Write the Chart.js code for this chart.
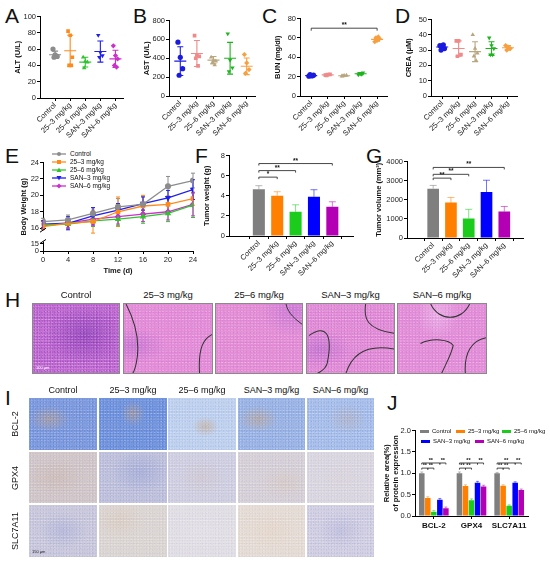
<!DOCTYPE html>
<html><head><meta charset="utf-8">
<script src="https://cdn.jsdelivr.net/npm/chart.js@4.4.1/dist/chart.umd.min.js"></script>
<style>
html,body{margin:0;padding:0}
body{width:550px;height:562px;position:relative;overflow:hidden;background:#fff;font-family:"Liberation Sans",Arial,sans-serif;color:#111}
canvas{position:absolute}
.L{position:absolute;font-size:21px;line-height:1;color:#111}
.t{position:absolute;font-size:9.5px;white-space:nowrap;transform:translateX(-50%);line-height:1}
.img{position:absolute;box-sizing:border-box;border:1px solid #8a8a8a;overflow:hidden;
 background-image:radial-gradient(var(--d) 0.5px,transparent 1px),radial-gradient(rgba(255,255,255,.35) 0.6px,transparent 1.1px),radial-gradient(var(--d) 0.4px,transparent 0.9px),var(--blob);
 background-size:2.6px 3.1px,3.3px 2.7px,4.3px 4.9px,100% 100%;background-position:0 0,1.2px 0.7px,2.1px 1.6px,0 0}
.img svg{position:absolute;left:0;top:0}
.row{position:absolute;font-size:9px;transform:translate(-50%,-50%) rotate(-90deg);white-space:nowrap;line-height:1}
.lg{position:absolute;font-size:6.5px;white-space:nowrap;line-height:7px}
.lg i{display:inline-block;vertical-align:middle;margin-right:3px}
.sb{position:absolute;font-size:4px;color:#222;left:3px;bottom:3px}
</style></head><body>

<div class="L" style="left:5px;top:5px">A</div>
<div class="L" style="left:133px;top:5px">B</div>
<div class="L" style="left:262px;top:5px">C</div>
<div class="L" style="left:395px;top:5px">D</div>
<div class="L" style="left:5px;top:145px">E</div>
<div class="L" style="left:195px;top:145px">F</div>
<div class="L" style="left:366px;top:145px">G</div>
<div class="L" style="left:5px;top:289px">H</div>
<div class="L" style="left:5px;top:387px">I</div>
<div class="L" style="left:387px;top:392px">J</div>

<canvas id="cA" style="left:12px;top:11px" width="115" height="129"></canvas>
<canvas id="cB" style="left:141px;top:15px" width="118" height="123"></canvas>
<canvas id="cC" style="left:272px;top:13px" width="119" height="125"></canvas>
<canvas id="cD" style="left:403px;top:14px" width="118" height="124"></canvas>
<canvas id="cE" style="left:18px;top:157px" width="181" height="119"></canvas>
<canvas id="cF" style="left:201px;top:150px" width="155" height="130"></canvas>
<canvas id="cG" style="left:373px;top:156px" width="153" height="126"></canvas>
<canvas id="cJ" style="left:380px;top:425px" width="151" height="110"></canvas>

<div id="legE"></div>
<div id="legJ"></div>
<div id="hist"></div>

<script>
// ---- data ----
const groups = ['Control', '25–3 mg/kg', '25–6 mg/kg', 'SAN–3 mg/kg', 'SAN–6 mg/kg'];

// A  ALT (U/L)
const altPts = [[60, 53, 51, 50], [82, 77, 50, 40, 40], [50, 45, 44, 37], [77, 56, 52, 50], [64, 52, 48, 40, 38]];
const altMean = [53, 58, 44, 57, 48];
const altSd = [4.5, 19, 6, 13, 10.5];
// B  AST (U/L)
const astPts = [[570, 410, 290, 220], [640, 430, 420, 400, 320], [410, 380, 370, 350, 330], [660, 380, 300, 260], [440, 350, 280, 240]];
const astMean = [370, 450, 380, 400, 315];
const astSd = [152, 138, 38, 168, 88];
// C  BUN (mg/dl)
const bunPts = [[20.5, 21, 21.5, 22, 20.8], [21.5, 22, 22.3, 21.2], [20.5, 21, 21.2, 20.8], [22, 23, 24, 23.5, 22.5], [56, 57.5, 59, 60, 61]];
const bunMean = [21, 21.8, 20.9, 23, 58.5];
const bunSd = [0.7, 0.5, 0.4, 0.9, 2];
// D  CREA (uM)
const creaPts = [[33, 32, 31, 30, 33.5], [36, 36, 27, 26], [40, 31, 28, 26, 23], [38, 33, 31, 27, 27], [33, 32, 31, 30]];
const creaMean = [32, 31, 29, 31, 31.5];
const creaSd = [1.5, 5, 6.5, 4.5, 1.5];

// E  body weight (g)
const days = [0, 4, 8, 12, 16, 20, 24];
const bwControl = [16.8, 17.0, 17.8, 18.6, 18.9, 21.1, 21.8];
const bw253 = [16.2, 16.6, 16.8, 18.0, 18.7, 18.9, 19.6];
const bw256 = [16.4, 16.5, 16.9, 17.1, 17.4, 17.8, 18.8];
const bwSan3 = [16.5, 16.6, 17.5, 18.2, 19.0, 19.7, 20.7];
const bwSan6 = [16.3, 16.6, 17.1, 17.4, 17.7, 18.0, 18.9];
const bwSdControl = [0.4, 0.6, 0.7, 1.0, 1.0, 1.2, 0.9];
const bwSd253 = [0.4, 0.5, 1.4, 1.8, 1.3, 1.0, 0.8];
const bwSd256 = [0.5, 0.6, 0.7, 0.8, 0.8, 1.0, 1.5];
const bwSdSan3 = [0.4, 0.8, 1.0, 0.8, 0.8, 0.9, 1.2];
const bwSdSan6 = [0.5, 0.6, 0.8, 0.9, 0.9, 1.0, 1.4];

// F  tumor weight (g)
const tumorWeight = [4.65, 4.0, 2.4, 3.9, 2.9];
const tumorWeightSd = [0.35, 0.4, 0.7, 0.7, 0.5];
// G  tumor volume (mm3)
const tumorVolume = [2580, 1850, 1020, 2400, 1380];
const tumorVolumeSd = [170, 270, 480, 620, 270];

// J  relative area
const proteins = ['BCL-2', 'GPX4', 'SLC7A11'];
const relControl = [1.0, 1.0, 1.0];
const rel253 = [0.42, 0.70, 0.71];
const rel256 = [0.10, 0.37, 0.24];
const relSan3 = [0.38, 0.78, 0.78];
const relSan6 = [0.18, 0.69, 0.61];
const relSd = [0.03, 0.03, 0.02];

// ---- colours ----
const colE = ['#8c8c8c', '#ff8a1c', '#2fc42f', '#1f1fee', '#cc2fcc'];
const colB = ['#1b1bdf', '#f08a8a', '#b9a67f', '#1fb31f', '#f7a040'];
const colBar = ['#7f7f7f', '#ff7f00', '#1ccc1c', '#0000ff', '#b400b4'];
const shapes = ['circle', 'rect', 'triangle', 'triangle', 'rectRot'];
const rots = [0, 0, 0, 180, 0];

Chart.defaults.font.family = "'Liberation Sans', Arial, sans-serif";
Chart.defaults.font.size = 7.5;
Chart.defaults.color = '#222';
Chart.defaults.animation = false;
Chart.defaults.plugins.legend.display = false;
Chart.defaults.plugins.tooltip.enabled = false;

// mean + SD for the dot plots
const dotStats = {
  id: 'dotStats',
  afterDatasetsDraw(chart, args, o) {
    if (!o.mean) return;
    const { ctx, scales: { x, y } } = chart;
    o.mean.forEach((m, i) => {
      const cx = x.getPixelForValue(i);
      const ym = y.getPixelForValue(m), yt = y.getPixelForValue(m + o.sd[i]), yb = y.getPixelForValue(m - o.sd[i]);
      ctx.save();
      ctx.strokeStyle = o.colors[i];
      ctx.lineWidth = 1.1;
      ctx.beginPath();
      ctx.moveTo(cx - 6, ym); ctx.lineTo(cx + 6, ym);
      ctx.moveTo(cx, yt); ctx.lineTo(cx, yb);
      ctx.moveTo(cx - 3, yt); ctx.lineTo(cx + 3, yt);
      ctx.moveTo(cx - 3, yb); ctx.lineTo(cx + 3, yb);
      ctx.stroke();
      ctx.restore();
    });
  }
};

// SD whiskers: per dataset (line chart) or per bar (bar charts)
const errBars = {
  id: 'errBars',
  beforeDatasetsDraw(chart, args, o) {
    if (!o.sd) return;
    const { ctx, scales: { y } } = chart;
    chart.data.datasets.forEach((ds, i) => {
      const meta = chart.getDatasetMeta(i);
      meta.data.forEach((el, j) => {
        const v = typeof ds.data[j] === 'object' ? ds.data[j].y : ds.data[j];
        const s = o.sd[i][j];
        const yt = y.getPixelForValue(v + s), yb = o.upOnly ? el.y : y.getPixelForValue(v - s);
        const cap = o.cap || 2.5;
        ctx.save();
        ctx.strokeStyle = o.perBar ? o.colors[j] : o.colors[i];
        ctx.globalAlpha = o.alpha || 1;
        ctx.lineWidth = 1;
        ctx.beginPath();
        ctx.moveTo(el.x, yt); ctx.lineTo(el.x, yb);
        ctx.moveTo(el.x - cap, yt); ctx.lineTo(el.x + cap, yt);
        if (!o.upOnly) { ctx.moveTo(el.x - cap, yb); ctx.lineTo(el.x + cap, yb); }
        ctx.stroke();
        ctx.restore();
      });
    });
  }
};

// significance brackets
const sigMarks = {
  id: 'sigMarks',
  afterDraw(chart, args, o) {
    if (!o.items) return;
    const { ctx, scales: { x, y } } = chart;
    ctx.save();
    ctx.strokeStyle = '#333';
    ctx.fillStyle = '#111';
    ctx.lineWidth = 0.9;
    ctx.font = 'bold ' + (o.size || 6.5) + 'px "Liberation Sans", Arial';
    ctx.textAlign = 'center';
    o.items.forEach(it => {
      let x1, x2, yv, lab;
      if (it.length === 5) {
        x1 = chart.getDatasetMeta(it[1]).data[it[0]].x;
        x2 = chart.getDatasetMeta(it[2]).data[it[0]].x;
        yv = it[3]; lab = it[4];
      } else {
        x1 = x.getPixelForValue(it[0]); x2 = x.getPixelForValue(it[1]); yv = it[2]; lab = it[3];
      }
      const py = y.getPixelForValue(yv);
      const d = o.tick || 2.5;
      ctx.beginPath();
      ctx.moveTo(x1, py + d); ctx.lineTo(x1, py); ctx.lineTo(x2, py); ctx.lineTo(x2, py + d);
      ctx.stroke();
      ctx.fillText(lab, (x1 + x2) / 2, py - 1);
    });
    ctx.restore();
  }
};

// broken y axis in E
const axisBreak = {
  id: 'axisBreak',
  afterDraw(chart, args, o) {
    if (!o.lo) return;
    const { ctx, scales: { y } } = chart;
    const x0 = y.right;
    const a = y.getPixelForValue(o.hi), b = y.getPixelForValue(o.lo);
    ctx.save();
    ctx.fillStyle = '#fff';
    ctx.fillRect(x0 - 3, a + 2, 6, b - a - 4);
    ctx.strokeStyle = '#000';
    ctx.lineWidth = 1;
    ctx.beginPath();
    ctx.moveTo(x0 - 3, a + 4); ctx.lineTo(x0 + 3, a);
    ctx.moveTo(x0 - 3, b); ctx.lineTo(x0 + 3, b - 4);
    ctx.stroke();
    ctx.restore();
  }
};
Chart.register(dotStats, errBars, sigMarks, axisBreak);

const gridOpts = { drawOnChartArea: false, color: '#000', tickColor: '#000', tickLength: 3, lineWidth: 1 };
const borderOpts = { color: '#000', width: 1 };

function yAxis(min, max, step, title, w) {
  return {
    min, max,
    ticks: { stepSize: step, padding: 1, color: '#222', callback: v => v },
    grid: gridOpts, border: borderOpts,
    title: { display: true, text: title, color: '#111', padding: 1, font: { size: 7.5, weight: 'bold' } },
    afterFit: s => { s.width = w; }
  };
}
function xGroups(min, max, h) {
  return {
    type: 'linear', min, max,
    afterBuildTicks: s => { s.ticks = groups.map((g, i) => ({ value: i })); },
    ticks: { callback: v => groups[v], autoSkip: false, minRotation: 45, maxRotation: 45, padding: 0, color: '#222' },
    grid: gridOpts, border: borderOpts,
    afterFit: s => { s.height = h; }
  };
}

function dotPlot(id, pts, mean, sd, cols, ymin, ymax, step, title, xmin, xmax, sig) {
  new Chart(document.getElementById(id), {
    type: 'scatter',
    data: {
      datasets: pts.map((p, i) => ({
        data: p.map((v, k) => ({ x: i + ((k % 3) - 1) * 0.14 + (k > 2 ? 0.07 : 0), y: v })),
        pointStyle: shapes[i], rotation: rots[i], radius: 2.6,
        backgroundColor: cols[i], borderColor: cols[i], borderWidth: 0
      }))
    },
    options: {
      responsive: false,
      layout: { padding: { top: 4, right: 4, left: 0, bottom: 0 } },
      scales: { x: xGroups(xmin, xmax, 42), y: yAxis(ymin, ymax, step, title, 28) },
      plugins: { dotStats: { mean, sd, colors: cols }, sigMarks: { items: sig } }
    }
  });
}

dotPlot('cA', altPts, altMean, altSd, colE, 0, 100, 20, 'ALT (U/L)', -1, 4.5, null);
dotPlot('cB', astPts, astMean, astSd, colB, 0, 800, 200, 'AST (U/L)', -0.68, 4.5, null);
dotPlot('cC', bunPts, bunMean, bunSd, colB, 0, 80, 20, 'BUN (mg/dl)', -0.68, 4.6, [[0, 4, 70, '**']]);
dotPlot('cD', creaPts, creaMean, creaSd, colB, 0, 50, 10, 'CREA (\u03bcM)', -0.68, 4.55, null);

// E: body weight lines on a broken axis
const bwSeries = [bwControl, bw253, bw256, bwSan3, bwSan6];
const bwSd = [bwSdControl, bwSd253, bwSd256, bwSdSan3, bwSdSan6];
const BRK0 = 13.22, BRK15 = 14.14;
const eY = yAxis(BRK0, 24, 2, 'Body Weight (g)', 25);
eY.afterBuildTicks = s => { s.ticks = [BRK0, BRK15, 16, 18, 20, 22, 24].map(v => ({ value: v })); };
eY.ticks.callback = v => (v < 14 ? '0' : v < 15 ? '15' : v);
new Chart(document.getElementById('cE'), {
  type: 'line',
  data: {
    datasets: bwSeries.map((s, i) => ({
      label: groups[i],
      data: s.map((v, j) => ({ x: days[j], y: v })),
      borderColor: colE[i], backgroundColor: colE[i], borderWidth: 1.3,
      pointStyle: shapes[i], rotation: rots[i], radius: 2.4
    }))
  },
  options: {
    responsive: false,
    layout: { padding: { top: 4, right: 6, left: 0, bottom: 0 } },
    scales: {
      x: {
        type: 'linear', min: 0, max: 24,
        ticks: { stepSize: 4, padding: 1, color: '#222' },
        grid: gridOpts, border: borderOpts,
        title: { display: true, text: 'Time (d)', color: '#111', padding: 1, font: { size: 7.5, weight: 'bold' } }
      },
      y: eY
    },
    plugins: {
      errBars: { sd: bwSd, colors: colE, cap: 2 },
      axisBreak: { lo: BRK15, hi: 16 }
    }
  }
});

// F / G bars
function barPlot(id, vals, sd, ymin, ymax, step, title, xmin, xmax, yw, sig) {
  new Chart(document.getElementById(id), {
    type: 'bar',
    data: {
      datasets: [{
        data: vals.map((v, i) => ({ x: i, y: v })),
        backgroundColor: colBar, borderWidth: 0,
        barPercentage: 0.8, categoryPercentage: 0.82
      }]
    },
    options: {
      responsive: false,
      layout: { padding: { top: 4, right: 3, left: 0, bottom: 0 } },
      scales: { x: xGroups(xmin, xmax, 44), y: yAxis(ymin, ymax, step, title, yw) },
      plugins: {
        errBars: { sd: [sd], colors: colBar, perBar: true, upOnly: true, cap: 3.5, alpha: 0.55 },
        sigMarks: { items: sig, tick: 2 }
      }
    }
  });
}
barPlot('cF', tumorWeight, tumorWeightSd, 0, 8, 2, 'Tumor weight (g)', -0.95, 4.45, 28,
  [[0, 1, 5.85, '*'], [0, 2, 6.5, '**'], [0, 4, 7.2, '**']]);
barPlot('cG', tumorVolume, tumorVolumeSd, 0, 4000, 1000, 'Tumor volume (mm\u00b3)', -0.82, 4.4, 34,
  [[0, 1, 3130, '**'], [0, 2, 3330, '**'], [0, 4, 3690, '**']]);

// J grouped bars
const relSeries = [relControl, rel253, rel256, relSan3, relSan6];
const jY = yAxis(0, 2, 0.5, ['Relative area(%)', 'of protein expression'], 35);
jY.ticks.callback = v => v.toFixed(1);
jY.title.font = { size: 7.5, weight: 'bold' };
jY.title.padding = 2;
new Chart(document.getElementById('cJ'), {
  type: 'bar',
  data: {
    labels: proteins,
    datasets: relSeries.map((s, i) => ({
      label: groups[i], data: s, backgroundColor: colBar[i], borderWidth: 0,
      barPercentage: 0.92, categoryPercentage: 0.8
    }))
  },
  options: {
    responsive: false,
    layout: { padding: { top: 4, right: 3, left: 0, bottom: 0 } },
    scales: {
      x: {
        ticks: { padding: 2, color: '#111', minRotation: 0, maxRotation: 0, autoSkip: false, font: { size: 8, weight: 'bold' } },
        grid: Object.assign({}, gridOpts, { offset: false }), border: borderOpts,
        afterFit: s => { s.height = 19; }
      },
      y: jY
    },
    plugins: {
      errBars: { sd: relSeries.map(() => relSd), colors: colBar, upOnly: true, cap: 1.5, alpha: 0.5 },
      sigMarks: {
        tick: 1.5, size: 5.5,
        items: [0, 1, 2].flatMap(g => [[g, 0, 1, 1.12, '**'], [g, 1, 2, 1.12, '**'], [g, 0, 3, 1.24, '**'], [g, 3, 4, 1.24, '**']])
      }
    }
  }
});

// legends
function sym(i, w) {
  const c = colE[i];
  let m = '';
  if (shapes[i] === 'circle') m = `<circle cx="${w / 2}" cy="3" r="2" fill="${c}"/>`;
  else if (shapes[i] === 'rect') m = `<rect x="${w / 2 - 2}" y="1" width="4" height="4" fill="${c}"/>`;
  else if (shapes[i] === 'rectRot') m = `<polygon points="${w / 2},0.5 ${w / 2 + 2.5},3 ${w / 2},5.5 ${w / 2 - 2.5},3" fill="${c}"/>`;
  else if (rots[i] === 0) m = `<polygon points="${w / 2},0.5 ${w / 2 + 2.5},5 ${w / 2 - 2.5},5" fill="${c}"/>`;
  else m = `<polygon points="${w / 2},5.5 ${w / 2 + 2.5},1 ${w / 2 - 2.5},1" fill="${c}"/>`;
  return `<svg width="${w}" height="6" style="vertical-align:middle;margin-right:4px"><line x1="0" y1="3" x2="${w}" y2="3" stroke="${c}" stroke-width="1.3"/>${m}</svg>`;
}
document.getElementById('legE').innerHTML = groups.map((g, i) =>
  `<div class="lg" style="left:52px;top:${150 + i * 8}px">${sym(i, 14)}${g}</div>`).join('');

const legJpos = [[420, 428], [456, 428], [502, 428], [421, 438], [475, 438]];
document.getElementById('legJ').innerHTML = groups.map((g, i) =>
  `<div class="lg" style="left:${legJpos[i][0]}px;top:${legJpos[i][1]}px;font-size:6px"><i style="width:9px;height:2.5px;background:${colBar[i]}"></i>${g}</div>`).join('');

// H / I micrographs (approximate textures)
const hCols = [['#c46ad2', 'rgba(100,30,160,.4)', 'radial-gradient(ellipse at 60% 45%,rgba(110,40,170,.45),transparent 55%),radial-gradient(ellipse at 20% 80%,rgba(230,190,240,.4),transparent 40%)'],
  ['#e68ad6', 'rgba(150,70,190,.25)', 'radial-gradient(ellipse at 10% 60%,rgba(150,80,200,.35),transparent 30%),radial-gradient(ellipse at 60% 40%,rgba(250,220,245,.35),transparent 50%)'],
  ['#e58bd4', 'rgba(150,70,190,.22)', 'radial-gradient(ellipse at 90% 10%,rgba(160,90,210,.35),transparent 30%),radial-gradient(ellipse at 40% 70%,rgba(250,215,245,.3),transparent 50%)'],
  ['#e48ad5', 'rgba(140,70,190,.25)', 'radial-gradient(ellipse at 15% 65%,rgba(150,80,200,.35),transparent 30%),radial-gradient(ellipse at 80% 25%,rgba(245,210,245,.4),transparent 35%)'],
  ['#e68fd8', 'rgba(140,70,190,.22)', 'radial-gradient(ellipse at 45% 15%,rgba(250,220,250,.45),transparent 30%),radial-gradient(ellipse at 40% 60%,rgba(245,210,245,.35),transparent 30%)']];
const hX = [[32, 120], [123, 213], [215, 303], [306, 395], [397, 487]];
const hPaths = ['', 'M2,0 C12,20 16,40 12,60 C10,70 8,72 6,72 M88,30 C78,34 72,44 74,72',
  'M70,0 C72,10 80,16 88,22', 'M58,0 C56,14 58,26 88,30 M2,32 C18,20 26,30 20,60 C18,68 8,72 4,72 M38,72 C44,50 60,40 88,46',
  'M32,0 C40,18 62,18 70,0 M22,40 C34,34 50,36 54,42 C52,52 46,62 42,72 M88,34 C72,36 64,50 66,72'];
let html = '';
groups.forEach((g, i) => {
  const [x0, x1] = hX[i];
  html += `<div class="t" style="left:${(x0 + x1) / 2}px;top:290px">${g}</div>`;
  html += `<div class="img" style="left:${x0}px;top:303px;width:${x1 - x0}px;height:71px;background-color:${hCols[i][0]};--d:${hCols[i][1]};--blob:${hCols[i][2]}">` +
    (hPaths[i] ? `<svg width="${x1 - x0}" height="71" viewBox="0 0 88 72" preserveAspectRatio="none"><path d="${hPaths[i]}" fill="none" stroke="#333" stroke-width="1"/></svg>` : '') +
    (i === 0 ? '<span class="sb" style="color:#fff">100 μm</span>' : '') + '</div>';
});
const iX = [[29, 97], [99, 167], [168, 236], [238, 305], [307, 374]];
const iY = [[398, 450], [452, 503], [505, 557]];
const iRows = ['BCL-2', 'GPX4', 'SLC7A11'];
const tan = 'rgba(205,165,125,.55)';
const iCols = [
  [['#7f9de0', 'rgba(40,80,200,.3)', `radial-gradient(ellipse at 30% 40%,${tan},transparent 30%),radial-gradient(ellipse at 70% 70%,${tan},transparent 25%)`],
   ['#7196e0', 'rgba(40,80,200,.3)', `radial-gradient(ellipse at 50% 30%,${tan},transparent 25%),radial-gradient(ellipse at 30% 80%,${tan},transparent 25%)`],
   ['#c2d3ee', 'rgba(80,120,210,.2)', `radial-gradient(ellipse at 55% 55%,${tan},transparent 25%)`],
   ['#9db7e6', 'rgba(60,100,210,.25)', `radial-gradient(ellipse at 30% 40%,${tan},transparent 30%),radial-gradient(ellipse at 60% 85%,${tan},transparent 20%)`],
   ['#acc2ea', 'rgba(60,100,210,.25)', `radial-gradient(ellipse at 60% 40%,rgba(200,170,150,.35),transparent 35%)`]],
  [['#d3c8c8', 'rgba(150,140,190,.25)', 'radial-gradient(ellipse at 40% 50%,rgba(200,170,150,.3),transparent 50%)'],
   ['#c2c3db', 'rgba(110,120,200,.25)', 'radial-gradient(ellipse at 60% 40%,rgba(120,140,210,.3),transparent 50%)'],
   ['#d2d1e1', 'rgba(130,130,200,.2)', 'radial-gradient(ellipse at 50% 50%,rgba(210,190,180,.3),transparent 50%)'],
   ['#d8d2d8', 'rgba(140,130,190,.2)', 'radial-gradient(ellipse at 70% 60%,rgba(215,195,170,.35),transparent 40%)'],
   ['#dcd8e0', 'rgba(140,140,200,.18)', 'radial-gradient(ellipse at 50% 50%,rgba(220,210,210,.3),transparent 50%)']],
  [['#cccbdc', 'rgba(120,120,200,.25)', 'radial-gradient(ellipse at 50% 50%,rgba(140,150,210,.3),transparent 50%)'],
   ['#ddd7d3', 'rgba(150,150,190,.2)', 'radial-gradient(ellipse at 30% 30%,rgba(220,195,170,.35),transparent 40%)'],
   ['#e3e0e5', 'rgba(150,150,200,.18)', 'radial-gradient(ellipse at 50% 50%,rgba(235,230,235,.3),transparent 50%)'],
   ['#e6ddd6', 'rgba(170,150,160,.18)', 'radial-gradient(ellipse at 50% 50%,rgba(230,210,190,.35),transparent 50%)'],
   ['#d4d2e2', 'rgba(120,120,200,.25)', 'radial-gradient(ellipse at 50% 50%,rgba(150,150,210,.25),transparent 50%)']]
];
groups.forEach((g, i) => {
  const [x0, x1] = iX[i];
  html += `<div class="t" style="left:${(x0 + x1) / 2}px;top:386px;font-size:9px">${g}</div>`;
  iY.forEach(([y0, y1], r) => {
    const c = iCols[r][i];
    html += `<div class="img" style="left:${x0}px;top:${y0}px;width:${x1 - x0}px;height:${y1 - y0}px;border:none;background-color:${c[0]};--d:${c[1]};--blob:${c[2]}">` +
      (i === 0 && r === 2 ? '<span class="sb">150 μm</span>' : '') + '</div>';
  });
});
iY.forEach(([y0, y1], r) => {
  html += `<div class="row" style="left:15px;top:${(y0 + y1) / 2}px">${iRows[r]}</div>`;
});
document.getElementById('hist').innerHTML = html;
</script>
</body></html>
